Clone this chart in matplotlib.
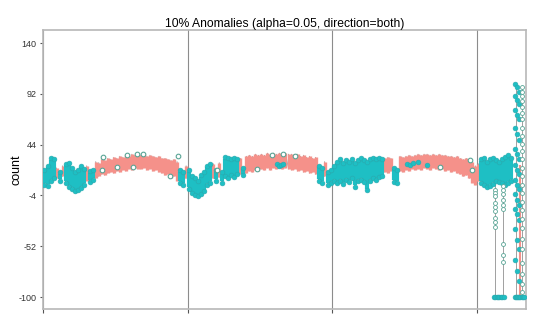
import numpy as np
import matplotlib.pyplot as plt

plt.rcParams['font.family'] = ['Liberation Sans', 'DejaVu Sans']

# per-bin envelope of the series (48 bins per day)
lo = [6, 5, 10, 12, 12, 10, 14, 8, 4, 2,
      0, 1, 3, 6, 10, 9, 11, 12, 14, 16,
      15, 17, 18, 17, 19, 18, 20, 19, 21, 20,
      22, 21, 21, 22, 20, 21, 19, 20, 18, 17,
      15, 16, 12, 14, 10, 8, 6, 12, 2, -2,
      -4, -5, -3, 0, 6, 8, 12, 10, 13, 8,
      14, 12, 15, 13, 16, 16, 15, 17, 19, 18,
      20, 19, 21, 20, 22, 20, 22, 21, 22, 21,
      22, 21, 20, 21, 19, 20, 18, 19, 17, 18,
      16, 10, 8, 14, 6, 8, 10, 8, 10, 7,
      11, 9, 12, 4, 10, 11, 9, 1, 10, 12,
      11, 13, 14, 18, 17, 19, 9, 8, 19, 18,
      20, 19, 21, 20, 21, 20, 22, 21, 20, 22,
      21, 20, 21, 19, 20, 18, 19, 17, 16, 14,
      15, 12, 8, 6, 10, 8, 6, 4, 5, 7,
      10, 9, 8, 6, 8, 10]
hi = [20, 24, 31, 30, 22, 18, 24, 26, 27, 22,
      18, 20, 24, 21, 24, 19, 20, 28, 27, 30,
      29, 31, 30, 32, 31, 33, 32, 34, 33, 35,
      34, 35, 34, 35, 33, 34, 33, 32, 33, 31,
      31, 30, 29, 30, 28, 20, 18, 24, 20, 14,
      12, 10, 15, 18, 24, 26, 26, 20, 27, 18,
      32, 31, 30, 31, 30, 31, 22, 33, 34, 33,
      35, 34, 35, 34, 36, 35, 36, 35, 36, 35,
      36, 35, 35, 34, 35, 33, 34, 32, 33, 31,
      32, 24, 22, 28, 18, 20, 24, 28, 30, 27,
      29, 28, 30, 27, 29, 31, 29, 28, 30, 31,
      30, 31, 30, 31, 32, 31, 22, 20, 33, 32,
      33, 34, 33, 34, 35, 34, 35, 35, 34, 35,
      34, 35, 34, 34, 33, 33, 32, 33, 31, 30,
      31, 29, 28, 24, 26, 30, 31, 28, 30, 31,
      29, 28, 30, 32, 34, 31]
anom_bins = [0, 1, 2, 3, 5, 7, 8, 9, 10, 11, 12, 13, 15, 16,
             45, 46, 48, 49, 50, 51, 52, 53, 54, 55, 57, 59,
             60, 61, 62, 63, 64, 66, 91, 92, 94, 95, 96, 97, 98, 99,
             100, 101, 102, 103, 104, 105, 106, 107, 108, 109, 110, 111, 112,
             116, 117, 145, 146, 147, 148, 149, 150, 151, 152, 153, 154, 155]

# single anomalies inside the normal band
ring_t = [0.408, 0.415, 0.511, 0.580, 0.622, 0.650, 0.691, 0.878, 0.933,
          1.203, 1.479, 1.583, 1.659, 1.742, 2.744, 2.951, 2.965]
ring_v = [20, 32, 23, 34.5, 23, 35.5, 35.5, 14, 33.5,
          20, 21, 34.5, 35.5, 33.5, 23, 29, 20]
dot_t = [1.617, 1.631, 1.645, 1.659, 2.520, 2.540, 2.560, 2.590, 2.654]
dot_v = [26, 24, 25, 26, 26, 25, 27, 28, 25]

# final stretch: drops to the floor and large swings
drop_t = [3.124, 3.179, 3.272, 3.310]
drop_lo = [-100, -100, -100, -100]
drop_hi = [12, 14, 101, 98]
tail_ring_t = [3.124] * 9 + [3.179] * 9 + [3.310] * 26
tail_ring_v = [1.5, -1.5, -5, -11, -15, -19, -25, -29, -34,
               5, 1.5, -3, -8, -13, -17, -50, -60, -67,
               98, 94, 90, 85, 80, 74, 68, 60, 52, 45, 38, 30, 22,
               14, 6, -2, -10, -18, -26, -35, -45, -55, -68, -78, -88, -95]
tail_dot_t = [3.262, 3.275, 3.289] * 11
tail_dot_v = [101, 98, 94, 90, 86, 82, 77, 72, 68, 60, 54,
              48, 40, 35, 30, 25, 20, 16, 11, 6, 2, -3,
              -8, -13, -17, -22, -27, -36, -46, -55, -65, -75, -85]
floor_t = [3.117, 3.127, 3.137, 3.147, 3.157, 3.167, 3.177, 3.187,
           3.262, 3.270, 3.278, 3.286, 3.294, 3.302, 3.310, 3.318, 3.325]
floor_v = [-100] * 17
tail_line_t = [3.300]
tail_line_lo = [-100]
tail_line_hi = [25]

yticks = [140, 92, 44, -4, -52, -100]

salmon = '#f5918a'
teal = '#1ebfc4'
teal_edge = '#2aa9ad'
ring_edge = '#5aa596'
grey = '#a0a0a0'

lo = np.array(lo, float)
hi = np.array(hi, float)
t = (np.arange(len(lo)) + 0.5) / 48
is_anom = np.isin(np.arange(len(lo)), anom_bins)

fig = plt.figure(figsize=(5.4, 3.36), dpi=100)
ax = fig.add_axes([0.0796, 0.0804, 0.8944, 0.8303])

# raw series as a zigzag between bin extremes
zx = np.repeat(t, 2)
zy = np.column_stack([lo, hi]).ravel()
ax.plot(zx, zy, color=grey, lw=0.6, zorder=1)
ax.vlines(drop_t, drop_lo, drop_hi, color=grey, lw=0.7, zorder=1)

ax.vlines(t[~is_anom], lo[~is_anom], hi[~is_anom], color=salmon, lw=2.4, zorder=2)
ax.vlines(tail_line_t, tail_line_lo, tail_line_hi, color=salmon, lw=1.5, zorder=2)

ax.vlines(t[is_anom], lo[is_anom] + 1.5, hi[is_anom] - 1.5, color=teal, lw=3.0, zorder=3)
ax.scatter(np.r_[t[is_anom], t[is_anom]], np.r_[lo[is_anom], hi[is_anom]],
           s=12, color=teal, edgecolors=teal_edge, linewidths=0.4, zorder=3)
ax.scatter(dot_t, dot_v, s=12, color=teal, edgecolors=teal_edge, linewidths=0.4, zorder=3)
ax.scatter(tail_dot_t, tail_dot_v, s=12, color=teal, edgecolors=teal_edge, linewidths=0.4, zorder=3)
ax.scatter(floor_t, floor_v, s=12, color=teal, edgecolors=teal_edge, linewidths=0.4, zorder=3)

ax.scatter(ring_t, ring_v, s=11, facecolors='white', edgecolors=ring_edge, linewidths=0.8, zorder=4)
ax.scatter(tail_ring_t, tail_ring_v, s=8, facecolors='white', edgecolors=ring_edge,
           linewidths=0.6, zorder=4)

ax.set_xlim(0, 3.34)
ax.set_ylim(-111.3, 152.3)
ax.set_xticks([0, 1, 2, 3])
ax.set_xticklabels([])
ax.set_yticks(yticks)
ax.set_yticklabels([str(v) for v in yticks])
ax.grid(axis='x', color='#8c8c8c', lw=0.8)
ax.set_axisbelow(True)
ax.tick_params(axis='y', labelsize=6.5, length=2.5, width=0.8, color='#555555',
               labelcolor='#333333', pad=2)
ax.tick_params(axis='x', length=3, width=0.8, color='#555555')
for side in ax.spines.values():
    side.set_color('#b8b8b8')
    side.set_linewidth(1.2)

ax.set_ylabel('count', fontsize=9)
ax.yaxis.set_label_coords(-0.042, 0.5)
ax.set_title('10% Anomalies (alpha=0.05, direction=both)', fontsize=8.7, pad=2)

fig.savefig('out.png', dpi=100)
